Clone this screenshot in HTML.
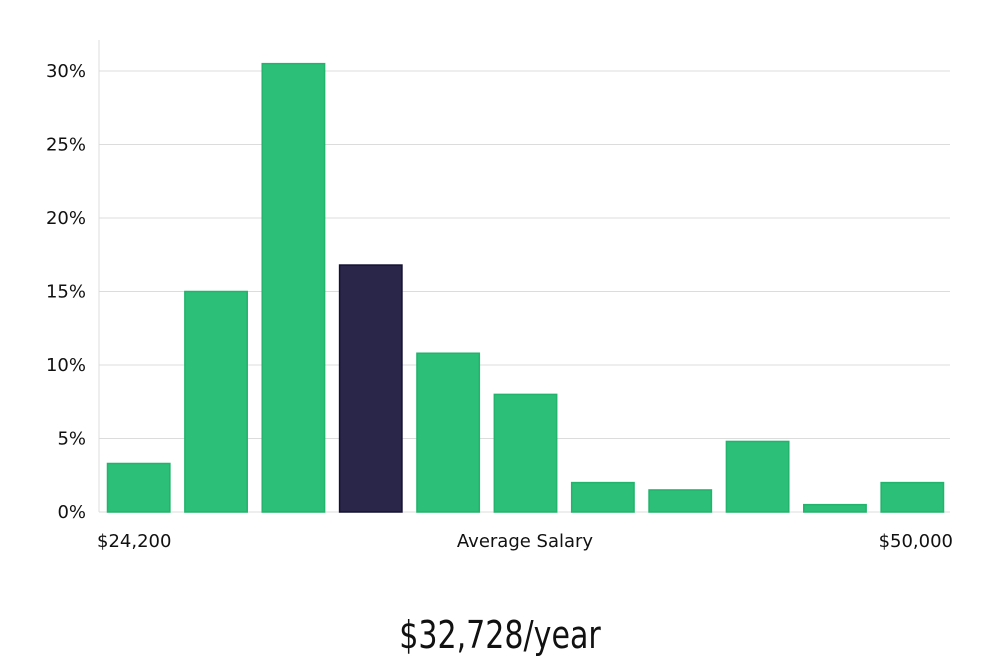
<!DOCTYPE html>
<html><head><meta charset="utf-8"><style>
body{margin:0;background:#fff;width:1000px;height:660px;overflow:hidden;font-family:"DejaVu Sans","Liberation Sans",sans-serif}
</style></head><body>
<svg width="1000" height="660" xmlns="http://www.w3.org/2000/svg">
<g id="grid"></g><g id="bars"></g>
<line x1="99" y1="40" x2="99" y2="512" stroke="#ddd" stroke-width="1"/>
<text x="97" y="547" font-size="18" fill="#111">$24,200</text>
<text x="525" y="547" font-size="18" fill="#111" text-anchor="middle">Average Salary</text>
<text x="953" y="547" font-size="18" fill="#111" text-anchor="end">$50,000</text>
<text x="500" y="648" font-size="38" fill="#111" text-anchor="middle" font-family="'DejaVu Sans Condensed','DejaVu Sans',sans-serif" transform="translate(500,0) scale(0.88,1) translate(-500,0)" font-weight="300">$32,728/year</text>
</svg>
<script>
const values=[3.3,15,30.5,16.8,10.8,8,2,1.5,4.8,0.5,2];
const highlightIndex=3;
const ticks=[0,5,10,15,20,25,30];
const ns="http://www.w3.org/2000/svg";
const x0=99,x1=950,yBase=512,pxPer=(512-71)/30;
const y=v=>yBase-v*pxPer;
const step=(x1-x0)/values.length;
const grid=document.getElementById('grid'),bars=document.getElementById('bars');
ticks.forEach(t=>{
 const l=document.createElementNS(ns,'line');
 
 
 l.setAttribute('x1',x0);l.setAttribute('x2',x1);l.setAttribute('y1',y(t));l.setAttribute('y2',y(t));
 l.setAttribute('stroke','#dcdcdc');grid.appendChild(l);
 const tx=document.createElementNS(ns,'text');
 
 
 tx.setAttribute('x',86);tx.setAttribute('y',y(t)+6);tx.setAttribute('text-anchor','end');
 tx.setAttribute('font-size','18');tx.setAttribute('fill','#111');tx.textContent=t+'%';grid.appendChild(tx);
});
values.forEach((v,i)=>{
 const r=document.createElementNS(ns,'rect');
 
 
 const hi=i===highlightIndex;
 r.setAttribute('x',x0+i*step+8.5);r.setAttribute('width',step-15);
 r.setAttribute('y',y(v));r.setAttribute('height',yBase-y(v));
 r.setAttribute('fill',hi?'#29264a':'#2bbf77');
 r.setAttribute('stroke',hi?'#141233':'#22b36c');r.setAttribute('stroke-width','1.5');
 bars.appendChild(r);
});
</script>
</body></html>
